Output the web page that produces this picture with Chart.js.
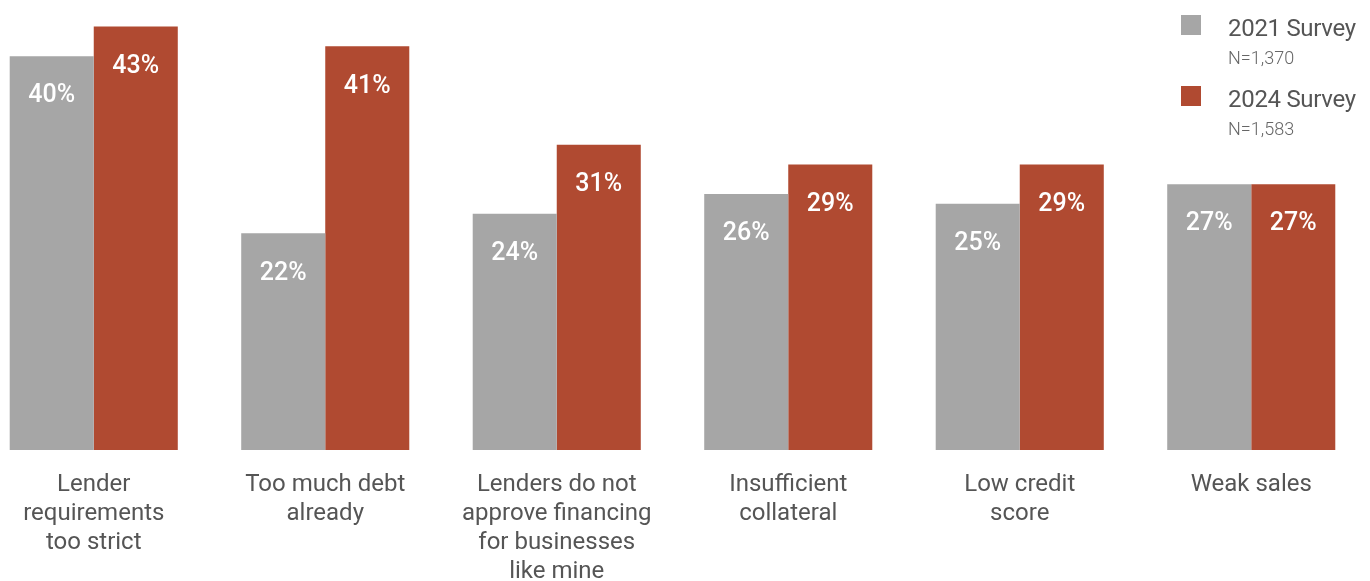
<!DOCTYPE html>
<html>
<head>
<meta charset="utf-8">
<script src="https://cdn.jsdelivr.net/npm/chart.js@4.4.1/dist/chart.umd.min.js"></script>
<style>
  body { margin: 0; background: #fff; overflow: hidden; }
  #wrap { position: relative; width: 1370px; height: 581px; overflow: hidden; }
  #chart { position: absolute; left: -22px; top: 0; }
  .legend { position: absolute; left: 1181px; font-family: Roboto, sans-serif; color: #555; }
  .legend .box { position: absolute; left: 0; width: 20px; height: 20px; }
  .legend .name { position: absolute; left: 47px; font-size: 24px; white-space: nowrap; line-height: 28px; letter-spacing: -0.3px; }
  .legend .n { position: absolute; left: 47px; font-size: 18px; font-weight: 300; color: #666; white-space: nowrap; line-height: 22px; }
</style>
</head>
<body>
<div id="wrap">
  <canvas id="chart" width="1389" height="581"></canvas>
  <div id="legend"></div>
</div>
<script>
const categories = [
    ['Lender', 'requirements', 'too strict'],
    ['Too much debt', 'already'],
    ['Lenders do not', 'approve financing', 'for businesses', 'like mine'],
    ['Insufficient', 'collateral'],
    ['Low credit', 'score'],
    ['Weak sales']
];
const survey2021 = [40, 22, 24, 26, 25, 27];
const survey2024 = [43, 41, 31, 29, 29, 27];
const seriesNames = ['2021 Survey', '2024 Survey'];
const sampleSizes = ['N=1,370', 'N=1,583'];
const colors = ['#a6a6a6', '#b04a31'];

// legend (html so it can sit on top right)
const legendEl = document.getElementById('legend');
seriesNames.forEach(function(name, i) {
    const top = 15 + i * 71;
    legendEl.innerHTML +=
        '<div class="legend" style="top:' + top + 'px">' +
        '<div class="box" style="top:0;background:' + colors[i] + '"></div>' +
        '<div class="name" style="top:-1px">' + name + '</div>' +
        '<div class="n" style="top:32px">' + sampleSizes[i] + '</div>' +
        '</div>';
});

// white value labels inside the top of each bar
const valueLabels = {
    id: 'valueLabels',
    afterDatasetsDraw(chart) {
        const ctx = chart.ctx;
        ctx.save();
        ctx.fillStyle = '#fff';
        ctx.font = '500 25px Roboto';
        ctx.textAlign = 'center';
        ctx.textBaseline = 'middle';
        chart.data.datasets.forEach(function(ds, i) {
            chart.getDatasetMeta(i).data.forEach(function(bar, j) {
                ctx.fillText(ds.data[j] + '%', bar.x, bar.y + 40);
            });
        });
        ctx.restore();
    }
};

const ctx = document.getElementById('chart').getContext('2d');
new Chart(ctx, {
    type: 'bar',
    data: {
        labels: categories,
        datasets: [{
            label: seriesNames[0],
            data: survey2021,
            backgroundColor: colors[0]
        }, {
            label: seriesNames[1],
            data: survey2024,
            backgroundColor: colors[1]
        }]
    },
    options: {
        responsive: false,
        animation: false,
        layout: { padding: 0 },
        categoryPercentage: 0.726,
        barPercentage: 1,
        plugins: {
            legend: { display: false },
            tooltip: { enabled: false }
        },
        scales: {
            x: {
                grid: { display: false, drawTicks: false },
                border: { display: false },
                ticks: {
                    color: '#555',
                    font: { family: 'Roboto', size: 24, lineHeight: 1.2 },
                    padding: 21,
                    maxRotation: 0,
                    autoSkip: false
                },
                afterFit: function(scale) { scale.height = 131; }
            },
            y: {
                display: false,
                min: 0,
                max: 45.7
            }
        }
    },
    plugins: [valueLabels]
});
</script>
</body>
</html>
